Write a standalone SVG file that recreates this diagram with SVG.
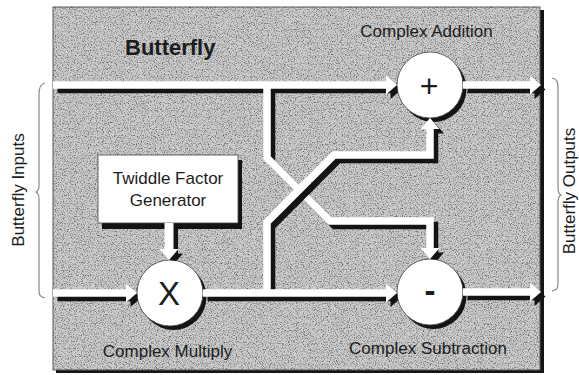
<svg xmlns="http://www.w3.org/2000/svg" width="579" height="375" viewBox="0 0 579 375">
<style>
text{font-family:"Liberation Sans",Arial,Helvetica,sans-serif;fill:#1c1c1c}
.lbl{font-size:17px}
.sh{fill:none;stroke:#141414;stroke-width:7.5}
.wl{fill:none;stroke:#fff;stroke-width:7.5}
.shf{fill:#141414}
.whf{fill:#fff}
.brace{fill:none;stroke:#888;stroke-width:1.2}
.node{fill:#fff;stroke:#444;stroke-width:0.8}
</style>
<defs>
<path id="ah" d="M0,0 L-11,-9.5 L-11,9.5 Z"/>
<filter id="grain" x="0" y="0" width="100%" height="100%" filterUnits="objectBoundingBox">
<feTurbulence type="fractalNoise" baseFrequency="0.85" numOctaves="2" seed="7" result="n"/>
<feColorMatrix in="n" type="matrix" values="0 0 0 0 0  0 0 0 0 0  0 0 0 0 0  1.5 0 0 0 -0.7"/>
</filter>
<mask id="cm" maskUnits="userSpaceOnUse" x="0" y="0" width="579" height="375">
<rect width="579" height="375" fill="#fff"/>
<circle cx="430" cy="85" r="33" fill="#000"/>
<circle cx="170" cy="293" r="33" fill="#000"/>
<circle cx="430" cy="292" r="33" fill="#000"/>
</mask>
</defs>
<rect width="579" height="375" fill="#fff"/>
<g id="butterfly">
<rect x="56" y="10" width="488" height="363" fill="#151515"/>
<rect x="53" y="7" width="487" height="363" fill="#cdcdcd" stroke="#5a5a5a" stroke-width="1"/>
<rect x="53.5" y="7.5" width="486" height="362" filter="url(#grain)"/>
<text x="125" y="55" font-size="22" font-weight="bold">Butterfly</text>
</g>
<g id="twiddle">
<rect x="102" y="160" width="140" height="69" class="shf"/>
<rect x="98" y="155" width="140" height="68" class="node"/>
<text x="168" y="184" class="lbl" text-anchor="middle">Twiddle Factor</text>
<text x="168" y="206" class="lbl" text-anchor="middle">Generator</text>
</g>
<g id="multiply">
<circle cx="173.5" cy="297" r="33" class="shf"/>
<circle cx="170" cy="293" r="33" class="node"/>
<text x="169" y="305" font-size="33" text-anchor="middle">X</text>
<text x="167.5" y="357" class="lbl" text-anchor="middle">Complex Multiply</text>
</g>
<g id="addition">
<circle cx="433.5" cy="89" r="33" class="shf"/>
<circle cx="430" cy="85" r="33" class="node"/>
<text x="429" y="97" font-size="32" text-anchor="middle">+</text>
<text x="426.5" y="37" class="lbl" text-anchor="middle">Complex Addition</text>
</g>
<g id="subtraction">
<circle cx="433.5" cy="296" r="33" class="shf"/>
<circle cx="430" cy="292" r="33" class="node"/>
<text x="430" y="302" font-size="33" font-weight="bold" text-anchor="middle">-</text>
<text x="428" y="354" class="lbl" text-anchor="middle">Complex Subtraction</text>
</g>
<g id="inputs">
<path class="brace" d="M45,83 C40,84 39,88 39,94 V185 C39,189 38,191 36,192 C38,193 39,195 39,199 V290 C39,295 40,297 45,298"/>
<text transform="translate(24,190) rotate(-90)" text-anchor="middle" class="lbl">Butterfly Inputs</text>
</g>
<g id="outputs">
<path class="brace" d="M552,78 C557,79 558,82 558,88 V188 C558,192 559,194 561,195 C559,196 558,198 558,202 V284 C558,288 557,290 552,291"/>
<text transform="translate(575,191) rotate(-90)" text-anchor="middle" class="lbl">Butterfly Outputs</text>
</g>
<g id="connectors">
<g mask="url(#cm)">
<g transform="translate(4.5,4.5)">
<path class="sh" d="M53,85 H388"/>
<path class="sh" d="M267,85 V158 L330,221 H430 V249"/>
<path class="sh" d="M53,293 H128"/>
<path class="sh" d="M203,293 H388"/>
<path class="sh" d="M267,293 V222 L334,155 H430 V128"/>
<path class="sh" d="M463,85 H532"/>
<path class="sh" d="M463,292 H532"/>
<path class="sh" d="M169,223 V251" style="stroke-width:9"/>
<use href="#ah" class="shf" transform="translate(397,85)"/>
<use href="#ah" class="shf" transform="translate(430,259) rotate(90)"/>
<use href="#ah" class="shf" transform="translate(137,293)"/>
<use href="#ah" class="shf" transform="translate(397,293)"/>
<use href="#ah" class="shf" transform="translate(430,118) rotate(-90)"/>
<use href="#ah" class="shf" transform="translate(541,85)"/>
<use href="#ah" class="shf" transform="translate(541,292)"/>
<use href="#ah" class="shf" transform="translate(169,260) rotate(90)"/>
</g>
</g>
<path class="wl" d="M53,85 H388"/>
<path class="wl" d="M267,85 V158 L330,221 H430 V249"/>
<path class="wl" d="M53,293 H128"/>
<path class="wl" d="M203,293 H388"/>
<path class="wl" d="M267,293 V222 L334,155 H430 V128"/>
<path class="wl" d="M463,85 H532"/>
<path class="wl" d="M463,292 H532"/>
<path class="wl" d="M169,223 V251" style="stroke-width:9"/>
<use href="#ah" class="whf" transform="translate(397,85)"/>
<use href="#ah" class="whf" transform="translate(430,259) rotate(90)"/>
<use href="#ah" class="whf" transform="translate(137,293)"/>
<use href="#ah" class="whf" transform="translate(397,293)"/>
<use href="#ah" class="whf" transform="translate(430,118) rotate(-90)"/>
<use href="#ah" class="whf" transform="translate(541,85)"/>
<use href="#ah" class="whf" transform="translate(541,292)"/>
<use href="#ah" class="whf" transform="translate(169,260) rotate(90)"/>
<path class="sh" d="M293.5,204.5 L313.5,184.5"/>
<path class="wl" d="M289,200 L309,180"/>
</g>
</svg>
